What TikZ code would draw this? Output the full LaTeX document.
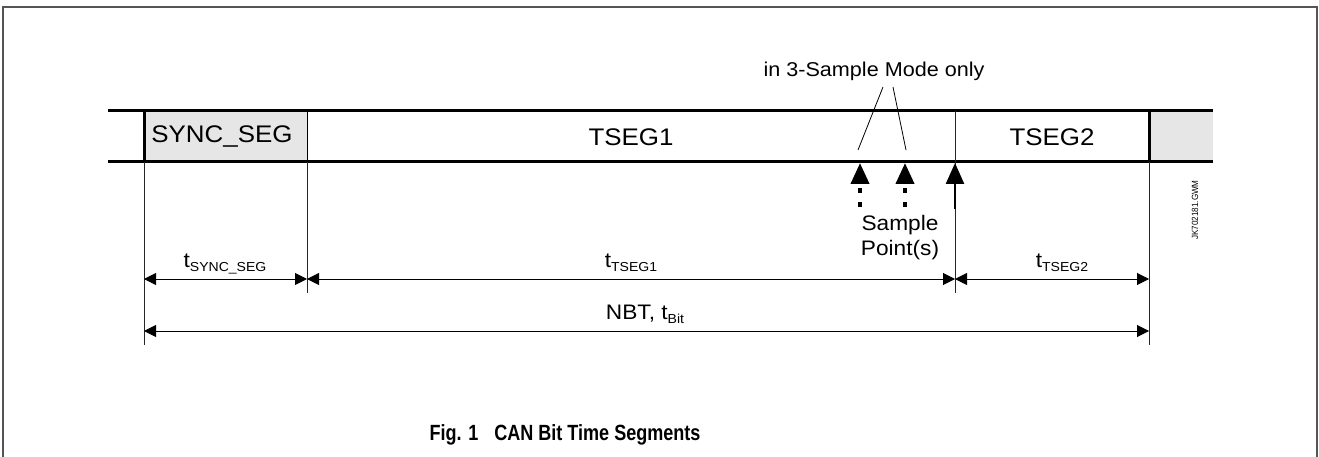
\documentclass[tikz,border=0pt]{standalone}
\usepackage{fontspec}
\setmainfont{Liberation Sans}[FakeStretch=1.08]
\newfontfamily\capfont{Liberation Sans}[FakeStretch=0.82]
\newfontfamily\reffont{Liberation Sans}[FakeStretch=0.9]
\usetikzlibrary{arrows.meta}

\definecolor{segfill}{RGB}{230,230,230}
\definecolor{framegray}{RGB}{85,85,85}

\tikzset{
  barline/.style={line width=3pt},
  thinsep/.style={line width=1pt},
  thicksep/.style={line width=3pt},
  extline/.style={line width=1pt, draw=black!85},
  dimline/.style={line width=1pt,
    {Triangle[length=12pt,width=12pt]}-{Triangle[length=12pt,width=12pt]}},
  seglabel/.style={inner sep=0pt, font=\fontsize{24}{28}\selectfont},
  dimlabel/.style={inner sep=0pt, anchor=base, font=\fontsize{21}{25}\selectfont},
  note/.style={inner sep=0pt, font=\fontsize{20}{23}\selectfont},
  samplearrow/.style={-{Triangle[length=21pt,width=18pt]}},
  optsample/.style={samplearrow, line width=4pt, dash pattern=on 5pt off 9pt},
  mainsample/.style={samplearrow, line width=2.5pt},
  pointer/.style={line width=0.8pt},
}
\newcommand{\sub}[1]{\raisebox{-0.2em}{\fontsize{13}{13}\selectfont #1}}

\begin{document}
\begin{tikzpicture}[x=1pt,y=-1pt]
\useasboundingbox (0,0) rectangle (1319,457);

% outer frame (open at the bottom)
\draw[framegray, line width=2pt] (3,460) -- (3,7) -- (1317,7) -- (1317,460);

% segment boundaries along the bit bar
\coordinate (b0t) at (108,111);  \coordinate (b0b) at (108,162);
\coordinate (b1t) at (144,111);  \coordinate (b1b) at (144,162);
\coordinate (b2t) at (307,111);  \coordinate (b2b) at (307,162);
\coordinate (b3t) at (955,111);  \coordinate (b3b) at (955,162);
\coordinate (b4t) at (1149,111); \coordinate (b4b) at (1149,162);
\coordinate (b5t) at (1213,111); \coordinate (b5b) at (1213,162);

% shaded segments
\fill[segfill] (b1t) rectangle (b2b);
\fill[segfill] (b4t) rectangle (b5b);

% bar outline
\draw[barline] (b0t) -- (b5t);
\draw[barline] (b0b) -- (b5b);
\draw[thicksep] (b1t) -- (b1b);
\draw[thicksep] (b4t) -- (b4b);
\draw[thinsep] (b2t) -- (b2b);

% segment names
\node[seglabel] (sync)  at (222,137) {SYNC\_SEG};
\node[seglabel] (tseg1) at (631,137) {TSEG1};
\node[seglabel] (tseg2) at (1052,137) {TSEG2};

% extension lines
\coordinate (e1) at (144,345);
\coordinate (e2) at (307,293);
\coordinate (e3) at (955,293);
\coordinate (e4) at (1149,345);
\draw[extline] (b1b) -- (e1);
\draw[extline] (b2b) -- (e2);
\draw[extline] (b3t) -- (e3);
\draw[extline] (b4b) -- (e4);

% dimension arrows
\coordinate (d1a) at (144,279);  \coordinate (d1b) at (307,279);
\coordinate (d2a) at (307,279);  \coordinate (d2b) at (955,279);
\coordinate (d3a) at (955,279);  \coordinate (d3b) at (1149,279);
\coordinate (d4a) at (144,331);  \coordinate (d4b) at (1149,331);
\draw[dimline] (d1a) -- (d1b);
\draw[dimline] (d2a) -- (d2b);
\draw[dimline] (d3a) -- (d3b);
\draw[dimline] (d4a) -- (d4b);

\node[dimlabel] (tsync) at (225,267)  {t\sub{SYNC\_SEG}};
\node[dimlabel] (tts1)  at (631,267)  {t\sub{TSEG1}};
\node[dimlabel] (tts2)  at (1062,267) {t\sub{TSEG2}};
\node[dimlabel] (tbit)  at (645,319)  {NBT, t\sub{Bit}};

% sample points
\coordinate (s1) at (860,207);  \coordinate (s1tip) at (860,163);
\coordinate (s2) at (905,207);  \coordinate (s2tip) at (905,163);
\coordinate (s3) at (955,209);  \coordinate (s3tip) at (955,163);
\draw[optsample] (s1) -- (s1tip);
\draw[optsample] (s2) -- (s2tip);
\draw[mainsample] (s3) -- (s3tip);

\node[inner sep=0pt, font=\fontsize{21}{25}\selectfont, align=center] (spt) at (900,238) {Sample\\Point(s)};

% note on the optional sample points
\node[note] (mode) at (874,71) {in 3-Sample Mode only};
\coordinate (m1) at (883,87);  \coordinate (p1) at (858,150);
\coordinate (m2) at (893,87);  \coordinate (p2) at (906,150);
\draw[pointer] (m1) -- (p1);
\draw[pointer] (m2) -- (p2);

% drawing reference
\node[inner sep=0pt, rotate=90, font=\reffont\fontsize{9}{10}\selectfont] (ref) at (1195,210) {JK702181.GWM};

% caption
\node[inner sep=0pt, font=\capfont\bfseries\fontsize{22}{25}\selectfont] (cap) at (565,435) {Fig. 1\hspace{0.5em} CAN Bit Time Segments};
\end{tikzpicture}
\end{document}
